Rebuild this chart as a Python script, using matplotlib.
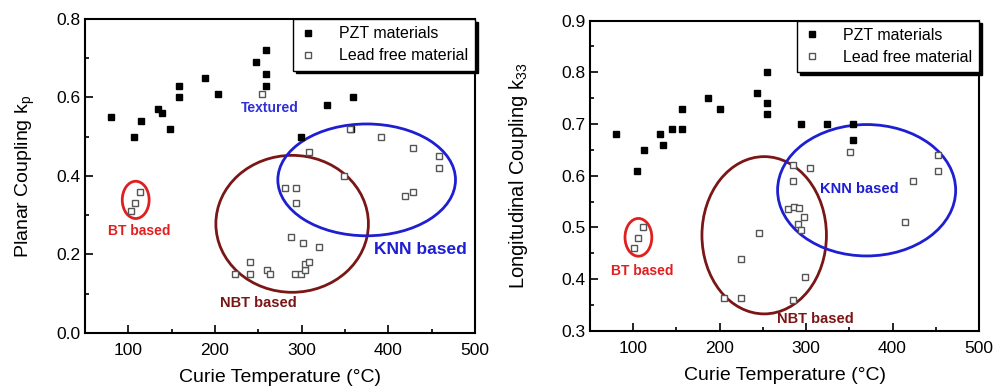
import matplotlib.pyplot as plt
from matplotlib.patches import Ellipse
from matplotlib.ticker import MultipleLocator

plt.rcParams['font.family'] = ['Liberation Sans', 'DejaVu Sans']

# ---- planar coupling kp vs Curie temperature ----
pzt_tc_kp = [80, 107, 115, 134, 139, 148, 159, 159, 188, 204, 247, 259, 259, 259, 329, 359, 299, 357]
pzt_kp = [0.55, 0.50, 0.54, 0.57, 0.56, 0.52, 0.63, 0.60, 0.65, 0.61, 0.69, 0.72, 0.66, 0.63, 0.58, 0.60, 0.50, 0.52]

lf_tc_kp = [254, 356, 391, 429, 459, 459, 309, 349, 281, 294, 294, 419, 429,
            114, 108, 103, 288, 301, 320, 240, 223, 240, 260, 264, 292, 299, 304, 304, 308]
lf_kp = [0.61, 0.52, 0.50, 0.47, 0.45, 0.42, 0.46, 0.40, 0.37, 0.37, 0.33, 0.35, 0.36,
         0.36, 0.33, 0.31, 0.245, 0.23, 0.22, 0.18, 0.15, 0.15, 0.16, 0.15, 0.15, 0.15, 0.16, 0.175, 0.18]

# ---- longitudinal coupling k33 vs Curie temperature ----
pzt_tc_k33 = [80, 104, 113, 131, 135, 145, 156, 156, 186, 200, 243, 255, 255, 255, 294, 324, 354, 354]
pzt_k33 = [0.68, 0.61, 0.65, 0.68, 0.66, 0.69, 0.69, 0.73, 0.75, 0.73, 0.76, 0.80, 0.74, 0.72, 0.70, 0.70, 0.70, 0.67]

lf_tc_k33 = [351, 285, 304, 285, 424, 453, 453, 414, 279, 286, 292, 297, 291, 294,
             299, 285, 245, 225, 225, 205, 111, 105, 101]
lf_k33 = [0.645, 0.62, 0.615, 0.59, 0.59, 0.64, 0.61, 0.51, 0.535, 0.54, 0.538, 0.52, 0.507, 0.495,
          0.405, 0.36, 0.49, 0.44, 0.363, 0.363, 0.50, 0.48, 0.46]

# groups: (centre x, centre y, width, height, colour)
groups_kp = [(108.5, 0.339, 31, 0.095, '#e02020'),
             (289, 0.278, 176, 0.349, '#7a1616'),
             (375, 0.390, 205, 0.285, '#1e1ed2')]
groups_k33 = [(106, 0.481, 31, 0.073, '#e02020'),
              (251.5, 0.485, 144, 0.304, '#7a1616'),
              (370, 0.572, 206, 0.254, '#1e1ed2')]

fig = plt.figure(figsize=(10, 3.88), dpi=100)
ax1 = fig.add_axes([0.085, 0.142, 0.390, 0.809])
ax2 = fig.add_axes([0.590, 0.147, 0.389, 0.800])


def style(ax, ylo, yhi, ymaj, ymin):
    ax.set_xlim(50, 500)
    ax.set_ylim(ylo, yhi)
    ax.xaxis.set_major_locator(MultipleLocator(100))
    ax.xaxis.set_minor_locator(MultipleLocator(50))
    ax.yaxis.set_major_locator(MultipleLocator(ymaj))
    ax.yaxis.set_minor_locator(MultipleLocator(ymin))
    ax.tick_params(which='major', direction='in', length=6, width=1.2, labelsize=12.5)
    ax.tick_params(axis='x', which='major', pad=7)
    ax.tick_params(which='minor', direction='in', length=3, width=1.2)
    for s in ax.spines.values():
        s.set_linewidth(1.5)
    ax.set_xlabel('Curie Temperature (\u00b0C)', fontsize=14, labelpad=8)


def plot_panel(ax, xp, yp, xl, yl, groups):
    ax.plot(xp, yp, 's', color='black', ms=4.5, label='PZT materials', zorder=3)
    ax.plot(xl, yl, 's', mfc='white', mec='#555555', mew=1.0, ms=4.5,
            label='Lead free material', zorder=4)
    for cx, cy, w, h, c in groups:
        ax.add_patch(Ellipse((cx, cy), w, h, fill=False, edgecolor=c, lw=2, zorder=2))
    leg = ax.legend(loc='upper right', borderaxespad=0, fontsize=11.5, fancybox=False,
                    edgecolor='black', framealpha=1, handletextpad=1.4, handlelength=1.0,
                    borderpad=0.45, labelspacing=0.45,
                    shadow={'color': 'black', 'alpha': 1})
    leg.get_frame().set_linewidth(1.0)


plot_panel(ax1, pzt_tc_kp, pzt_kp, lf_tc_kp, lf_kp, groups_kp)
style(ax1, 0.0, 0.8, 0.2, 0.1)
ax1.set_ylabel('Planar Coupling k$_\\mathregular{p}$', fontsize=14, labelpad=14)
ax1.yaxis.set_major_formatter(plt.FormatStrFormatter('%.1f'))
ax1.text(263, 0.573, 'Textured', color='#3030d8', fontsize=10, fontweight='bold', ha='center', va='center')
ax1.text(113, 0.259, 'BT based', color='#e02020', fontsize=10, fontweight='bold', ha='center', va='center')
ax1.text(437, 0.213, 'KNN based', color='#1e1ed2', fontsize=12.5, fontweight='bold', ha='center', va='center')
ax1.text(250, 0.076, 'NBT based', color='#7a1616', fontsize=10.5, fontweight='bold', ha='center', va='center')

plot_panel(ax2, pzt_tc_k33, pzt_k33, lf_tc_k33, lf_k33, groups_k33)
style(ax2, 0.3, 0.9, 0.1, 0.05)
ax2.set_ylabel('Longitudinal Coupling k$_\\mathregular{33}$', fontsize=14.5, labelpad=22)
ax2.text(362, 0.574, 'KNN based', color='#1e1ed2', fontsize=10.5, fontweight='bold', ha='center', va='center')
ax2.text(111, 0.415, 'BT based', color='#e02020', fontsize=10, fontweight='bold', ha='center', va='center')
ax2.text(311, 0.323, 'NBT based', color='#7a1616', fontsize=10.5, fontweight='bold', ha='center', va='center')

fig.savefig('out.png', dpi=100)
